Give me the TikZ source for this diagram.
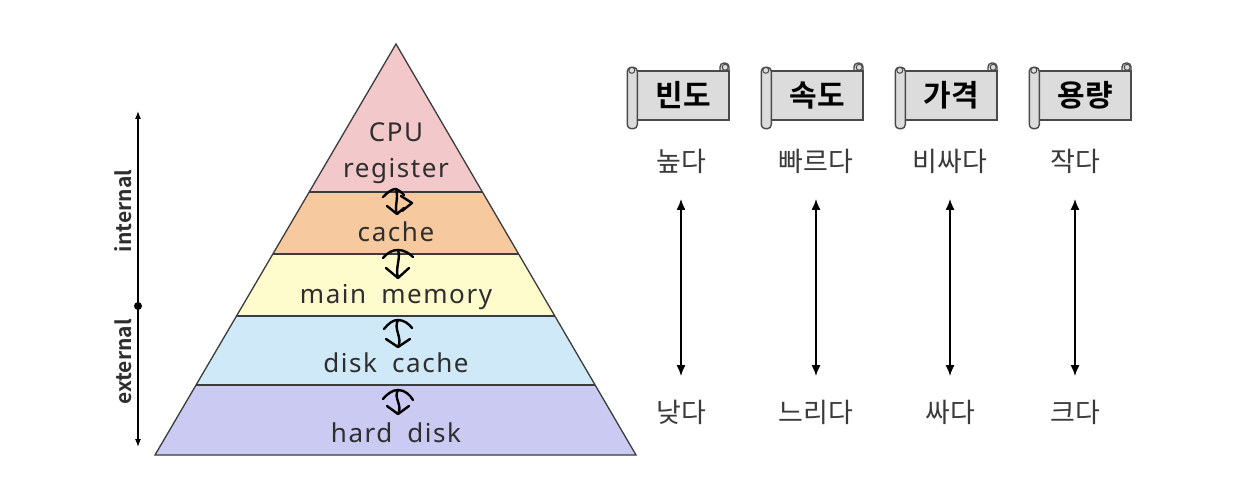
\documentclass[tikz,border=0pt]{standalone}
\usepackage{fontspec}
\setmainfont{Noto Sans CJK KR}[BoldFont={Noto Sans CJK KR Bold}]
\newfontfamily\latinfont{Noto Sans}[LetterSpace=6, WordSpace=1.8]
\usetikzlibrary{arrows.meta,calc}
\definecolor{txt}{HTML}{2E2E2E}
\definecolor{wordc}{HTML}{3A3A3A}
\definecolor{edge}{HTML}{3C3C3C}
\definecolor{cpuc}{HTML}{F3C8CB}
\definecolor{cachec}{HTML}{F6C99F}
\definecolor{mainc}{HTML}{FEFBCC}
\definecolor{diskc}{HTML}{CFE9F8}
\definecolor{hardc}{HTML}{CACAF3}
\definecolor{scrollc}{HTML}{DCDCDC}
\definecolor{scrolle}{HTML}{4A4A4A}
\begin{document}
\begin{tikzpicture}[x=1pt,y=-1pt,
  layerline/.style={draw=edge, line width=1.3pt},
  lbl/.style={text=txt, font=\latinfont\fontsize{26}{30}\selectfont, anchor=base, inner sep=0pt},
  sidelbl/.style={text=txt, font=\bfseries\fontsize{21}{24}\selectfont, rotate=90, inner sep=0pt},
  swapline/.style={draw=black, line width=2.4pt, line cap=round, line join=round},
  hdbox/.style={fill=scrollc, draw=scrolle, line width=1.4pt, minimum width=92pt, minimum height=49pt,
    inner sep=0pt, font=\bfseries\fontsize{30}{34}\selectfont, text=black},
  scrollroll/.style={fill=scrollc, draw=scrolle, line width=1.4pt, rounded corners=4pt},
  wordlbl/.style={text=wordc, font=\fontsize{27}{30}\selectfont, inner sep=0pt},
  spanarrow/.style={draw=black, line width=1.3pt, {Latex[length=11pt,width=9pt]}-{Latex[length=11pt,width=9pt]}}
]
\useasboundingbox[fill=white] (0,0) rectangle (1244,494);

% pyramid
\coordinate (apex) at (396,44);
\coordinate (bl) at (155,455);
\coordinate (br) at (636,455);
\coordinate (La) at ($(apex)!0.360!(bl)$); \coordinate (Ra) at ($(apex)!0.360!(br)$);
\coordinate (Lb) at ($(apex)!0.511!(bl)$); \coordinate (Rb) at ($(apex)!0.511!(br)$);
\coordinate (Lc) at ($(apex)!0.662!(bl)$); \coordinate (Rc) at ($(apex)!0.662!(br)$);
\coordinate (Ld) at ($(apex)!0.830!(bl)$); \coordinate (Rd) at ($(apex)!0.830!(br)$);
\fill[cpuc] (apex) -- (Ra) -- (La) -- cycle;
\fill[cachec] (La) -- (Ra) -- (Rb) -- (Lb) -- cycle;
\fill[mainc] (Lb) -- (Rb) -- (Rc) -- (Lc) -- cycle;
\fill[diskc] (Lc) -- (Rc) -- (Rd) -- (Ld) -- cycle;
\fill[hardc] (Ld) -- (Rd) -- (br) -- (bl) -- cycle;
\draw[layerline] (La) -- (Ra);
\draw[layerline] (Lb) -- (Rb);
\draw[layerline] (Lc) -- (Rc);
\draw[layerline] (Ld) -- (Rd);
\draw[layerline, line join=miter] (apex) -- (br) -- (bl) -- cycle;

\node[lbl] (cpu) at (396,142) {CPU};
\node[lbl] (reg) at (396,178) {register};
\node[lbl] (cache) at (396,242) {cache};
\node[lbl] (main) at (396,303) {main memory};
\node[lbl] (dcache) at (396,372) {disk cache};
\node[lbl] (hdisk) at (396,442) {hard disk};

% swap arrows between levels (hand-drawn look)
% 1: register <-> cache
\coordinate (s1t) at (396,189); \coordinate (s1b) at (397,214);
\draw[swapline] (383,197) .. controls (388,192) and (392,189) .. (s1t) .. controls (399,190) and (401,192) .. (404,195);
\draw[swapline] (s1t) .. controls (399,199) and (394,206) .. (s1b);
\draw[swapline] (401,196) -- (412,203) -- (402,211);
\draw[swapline] (387,206) -- (s1b) -- (404,208);
% 2: cache <-> main memory
\coordinate (s2t) at (398,250); \coordinate (s2b) at (398,278);
\draw[swapline] (383,258) .. controls (388,252) and (393,250) .. (s2t) .. controls (404,250) and (409,253) .. (413,257);
\draw[swapline] (s2t) .. controls (401,259) and (395,267) .. (s2b);
\draw[swapline] (386,268) -- (s2b) -- (409,268);
% 3: main memory <-> disk cache
\coordinate (s3t) at (398,320); \coordinate (s3b) at (398,347);
\draw[swapline] (384,329) .. controls (389,323) and (393,320) .. (s3t) .. controls (404,320) and (409,324) .. (412,328);
\draw[swapline] (s3t) .. controls (393,329) and (403,338) .. (s3b);
\draw[swapline] (386,339) -- (s3b) -- (410,339);
% 4: disk cache <-> hard disk
\coordinate (s4t) at (398,390); \coordinate (s4b) at (398,414);
\draw[swapline] (383,399) .. controls (388,393) and (393,390) .. (s4t) .. controls (405,390) and (410,395) .. (413,400);
\draw[swapline] (s4t) .. controls (393,398) and (403,405) .. (s4b);
\draw[swapline] (387,406) -- (s4b) -- (409,406);

% internal / external axis
\coordinate (axt) at (138,111);
\coordinate (axb) at (138,447);
\coordinate (axm) at (138,306);
\draw[draw=black, line width=1.2pt, {Latex[length=8pt,width=6pt]}-{Latex[length=8pt,width=6pt]}] (axt) -- (axb);
\fill (axm) circle (4pt);
\node[sidelbl] (int) at (123,211) {internal};
\node[sidelbl] (ext) at (123,362) {external};

% scroll headers
\foreach \i/\cx/\t in {1/683/빈도, 2/817/속도, 3/951/가격, 4/1085/용량} {
  \draw[scrollroll] (\cx+37,63) rectangle (\cx+46,78);
  \node[hdbox] (h\i) at (\cx,95.5) {\t};
  \draw[scrollroll] ($(h\i.north west)+(-9,-3)$) rectangle ($(h\i.south west)+(1,8)$);
  \draw[scrolle, line width=1pt] ($(h\i.north west)+(-4.5,0)$) circle (3pt);
  \draw[scrolle, line width=1pt] ($(h\i.north east)+(-4.5,-3)$) circle (3pt);
}

% ranges
\foreach \i/\x/\hi/\lo in {1/681/높다/낮다, 2/816/빠르다/느리다, 3/950/비싸다/싸다, 4/1075/작다/크다} {
  \node[wordlbl] (hi\i) at (\x,161) {\hi};
  \node[wordlbl] (lo\i) at (\x,412) {\lo};
  \coordinate (at\i) at (\x,199);
  \coordinate (ab\i) at (\x,376);
  \draw[spanarrow] (at\i) -- (ab\i);
}
\end{tikzpicture}
\end{document}
